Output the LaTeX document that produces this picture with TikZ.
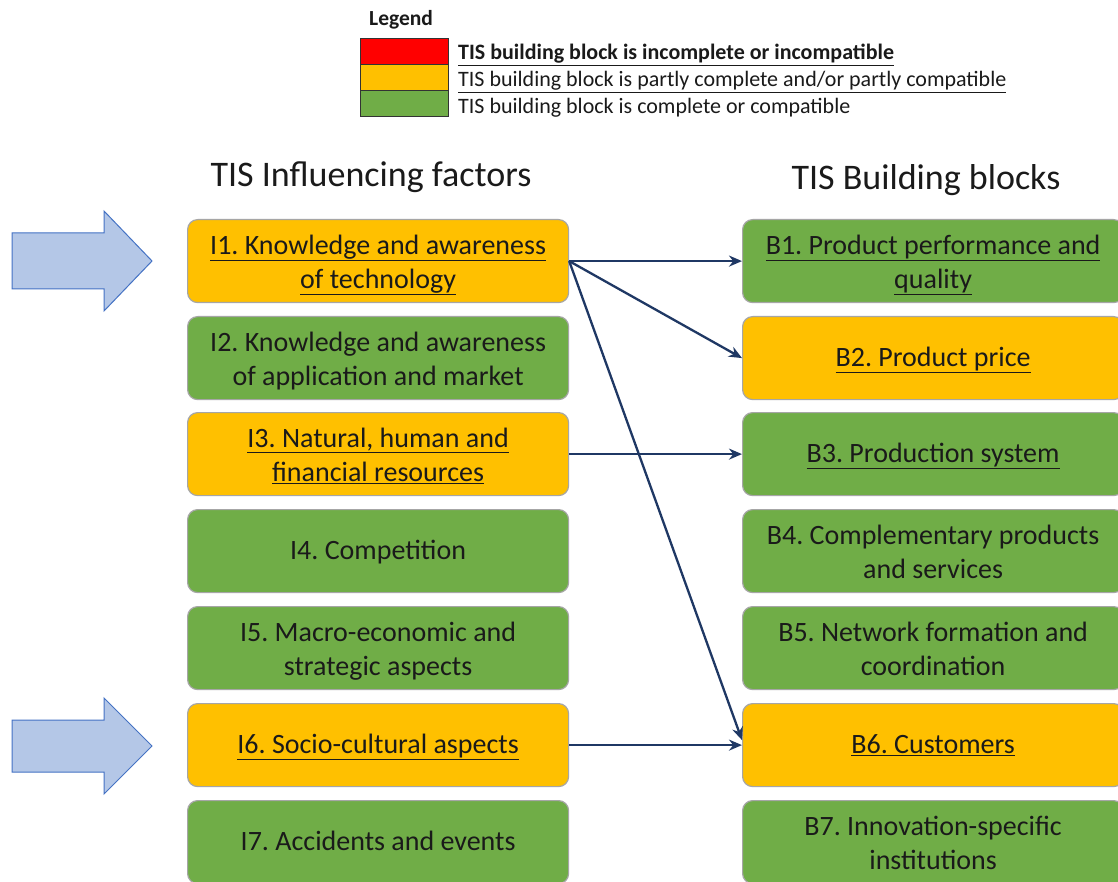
\documentclass[tikz,border=0pt]{standalone}
\usepackage{fontspec}
\setmainfont{Carlito}
\usetikzlibrary{arrows.meta}
\definecolor{yel}{HTML}{FFC000}
\definecolor{grn}{HTML}{70AD47}
\definecolor{redc}{HTML}{FF0000}
\definecolor{navy}{HTML}{1F3864}
\definecolor{arrfill}{HTML}{B4C7E7}
\definecolor{arrdraw}{HTML}{4472C4}
\definecolor{bord}{HTML}{A6A6A6}
\definecolor{txt}{HTML}{1A1A1A}
\newcommand\ulx[1]{\underline{#1}}
\newcommand\onepad{\rule[-7.5pt]{0pt}{31.5pt}}
\newcommand\twopad{\rule{0pt}{28pt}}
\newcommand\botpad{\rule[-7.5pt]{0pt}{7.5pt}}
\frenchspacing
\tikzset{
  x=1pt,y=-1pt,
  blk/.style={draw=bord, line width=1.2pt, rounded corners=10pt, minimum width=381pt, minimum height=83pt,
     align=center, text=txt, font=\fontsize{28}{34}\selectfont, anchor=north west, inner sep=0pt},
  yb/.style={blk, fill=yel},
  gb/.style={blk, fill=grn},
  conn/.style={draw=navy, line width=2.3pt, -{Stealth[length=13pt,width=11pt]}},
  bigarr/.style={fill=arrfill, draw=arrdraw, line width=1pt, line join=miter},
  legbox/.style={draw=black!80, line width=0.8pt, minimum width=88pt, minimum height=26pt, inner sep=0pt, anchor=north west},
  legtxt/.style={anchor=west, text=txt, font=\fontsize{22}{24}\selectfont, inner sep=0pt},
  title/.style={text=txt, font=\fontsize{36}{40}\selectfont, inner sep=0pt}
}
\begin{document}
\begin{tikzpicture}
\clip (0,0) rectangle (1118,882);
\fill[white] (0,0) rectangle (1118,882);
% legend
\node[text=txt, font=\bfseries\fontsize{21.5}{24}\selectfont, inner sep=0pt, anchor=west] (legt) at (369,20) {Legend};
\node[legbox, fill=redc] (lr) at (360,38) {};
\node[legbox, fill=yel] (ly) at (360,64) {};
\node[legbox, fill=grn] (lg) at (360,90) {};
\node[legtxt, font=\bfseries\fontsize{22}{24}\selectfont] (lrt) at (458,55) {\ulx{TIS building block is incomplete or incompatible}};
\node[legtxt] (lyt) at (458,82) {\ulx{TIS building block is partly complete and/or partly compatible}};
\node[legtxt] (lgt) at (458,108) {TIS building block is complete or compatible};
% titles
\node[title] (tl) at (371,177) {TIS Influencing factors};
\node[title] (tr) at (926,180) {TIS Building blocks};
% left boxes
\node[yb] (I1) at (187,219) {\twopad\ulx{I1. Knowledge and awareness}\\ \ulx{of technology}\botpad};
\node[gb] (I2) at (187,316) {\twopad I2. Knowledge and awareness\\ of application and market\botpad};
\node[yb] (I3) at (187,412) {\twopad\ulx{I3. Natural, human and}\\ \ulx{financial resources}\botpad};
\node[gb] (I4) at (187,509) {\onepad I4. Competition};
\node[gb] (I5) at (187,606) {\twopad I5. Macro-economic and\\ strategic aspects\botpad};
\node[yb] (I6) at (187,703) {\onepad\ulx{I6. Socio-cultural aspects}};
\node[gb] (I7) at (187,800) {\onepad I7. Accidents and events};
% right boxes
\node[gb] (B1) at (742,219) {\twopad\ulx{B1. Product performance and}\\ \ulx{quality}\botpad};
\node[yb] (B2) at (742,316) {\onepad\ulx{B2. Product price}};
\node[gb] (B3) at (742,412) {\onepad\ulx{B3. Production system}};
\node[gb] (B4) at (742,509) {\twopad B4. Complementary products\\ and services\botpad};
\node[gb] (B5) at (742,606) {\twopad B5. Network formation and\\ coordination\botpad};
\node[yb] (B6) at (742,703) {\onepad\ulx{B6. Customers}};
\node[gb] (B7) at (742,800) {\twopad B7. Innovation-specific\\ institutions\botpad};
% connectors
\draw[conn] (I1.east) -- (B1.west);
\draw[conn] (I1.east) -- (B2.west);
\draw[conn] (I1.east) -- ([yshift=5pt]B6.west);
\draw[conn] (I3.east) -- (B3.west);
\draw[conn] (I6.east) -- (B6.west);
% big arrows
\draw[bigarr] (12,233) -- (104,233) -- (104,211) -- (152,261) -- (104,311) -- (104,289) -- (12,289) -- cycle;
\draw[bigarr] (12,720) -- (104,720) -- (104,698) -- (152,746) -- (104,794) -- (104,772) -- (12,772) -- cycle;
\end{tikzpicture}
\end{document}
